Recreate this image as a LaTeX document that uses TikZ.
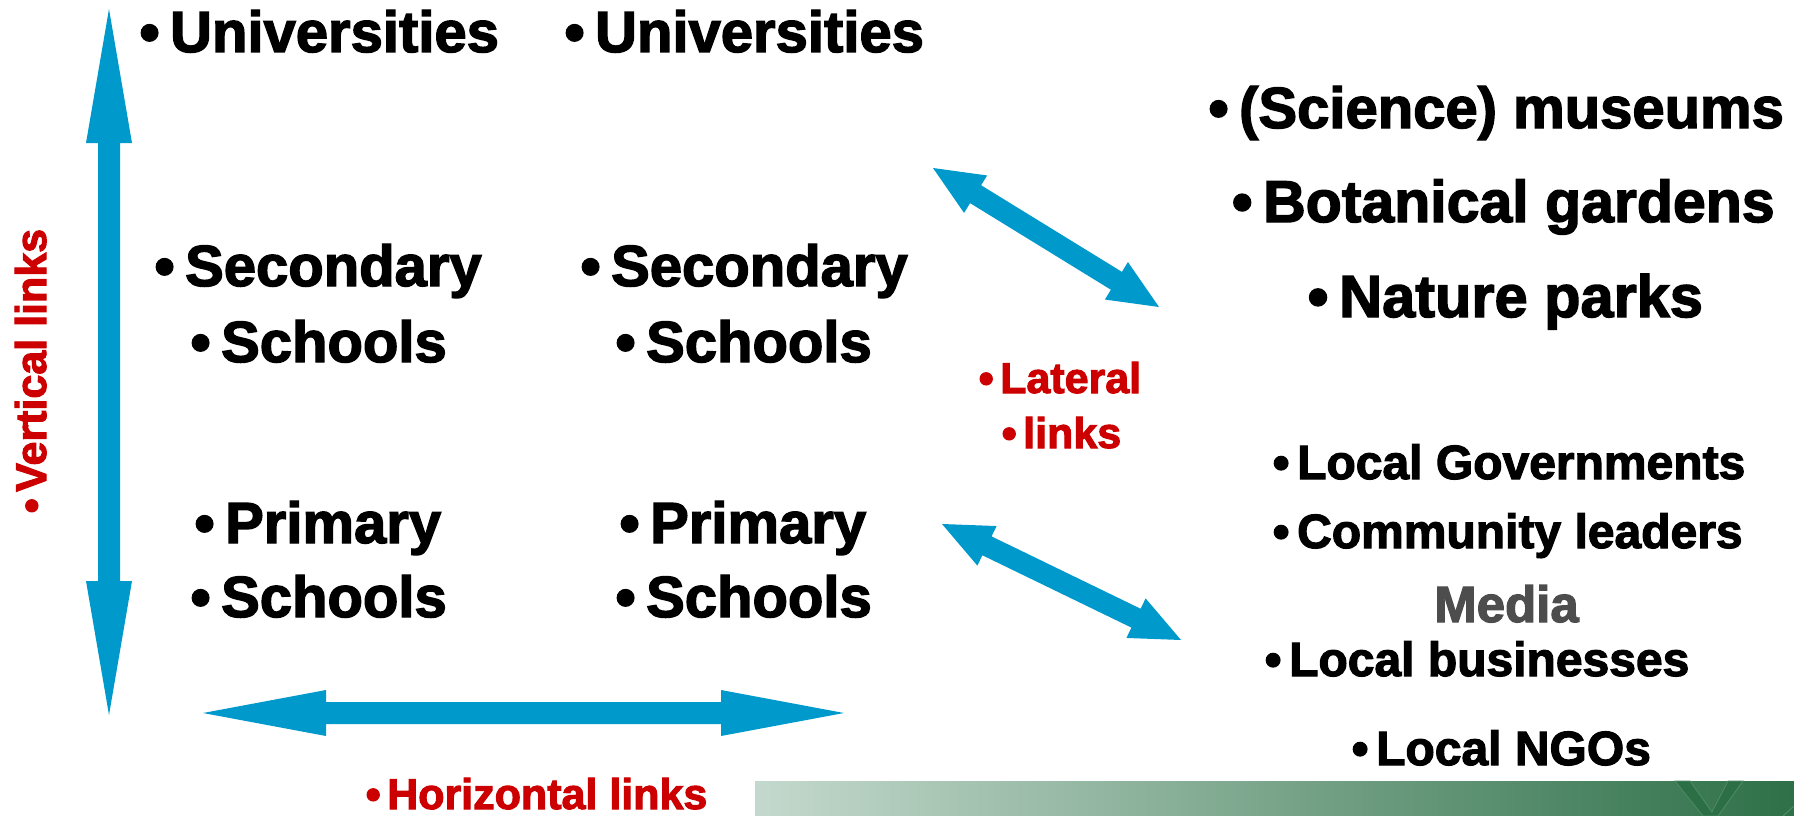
\documentclass[tikz,border=0pt]{standalone}
\usepackage{fontspec}
\setmainfont{Liberation Sans}[BoldFeatures={FakeBold=2.4}]
\usetikzlibrary{calc}
\definecolor{arrblue}{RGB}{0,153,204}
\definecolor{lblred}{RGB}{204,0,0}
\definecolor{mediagray}{RGB}{77,77,77}
\definecolor{barlight}{RGB}{196,217,205}
\definecolor{bardark}{RGB}{46,112,72}
\definecolor{vgreen}{RGB}{44,110,70}
\definecolor{vedge}{RGB}{80,140,100}
\newcommand{\bl}[1]{\llap{•\hspace{#1}}}
% double arrow polygon: #1,#2 tips; #3 head length; #4 head half width; #5 shaft half width
\newcommand{\dblarrow}[5]{%
  \fill[arrblue] (#1)
    -- ($(#1)!#3!(#2)!#4!90:(#2)$)
    -- ($(#1)!#3!(#2)!#5!90:(#2)$)
    -- ($(#2)!#3!(#1)!#5!-90:(#1)$)
    -- ($(#2)!#3!(#1)!#4!-90:(#1)$)
    -- (#2)
    -- ($(#2)!#3!(#1)!#4!90:(#1)$)
    -- ($(#2)!#3!(#1)!#5!90:(#1)$)
    -- ($(#1)!#3!(#2)!#5!-90:(#2)$)
    -- ($(#1)!#3!(#2)!#4!-90:(#2)$)
    -- cycle;}
\begin{document}
\begin{tikzpicture}[x=1pt,y=-1pt,
  big/.style={anchor=base west,inner sep=0pt,font=\fontsize{58}{58}\selectfont\bfseries},
  mid/.style={anchor=base west,inner sep=0pt,font=\fontsize{48}{48}\selectfont\bfseries},
  lbl/.style={anchor=base west,inner sep=0pt,text=lblred,font=\fontsize{43}{43}\selectfont\bfseries}]
\useasboundingbox (0,0) rectangle (1794,816);
% gradient bar
\shade[left color=barlight,right color=bardark] (755,781) rectangle (1794,816);
\filldraw[fill=vgreen,draw=vedge,line width=0.8pt] (1675,781) -- (1690,781) -- (1712,812) -- (1728,781) -- (1743,781) -- (1718,816) -- (1703,816) -- cycle;
\draw[vedge,line width=1pt] (1783,816) -- (1794,806);
% arrows
\coordinate (vt) at (109,9);
\coordinate (vb) at (109,715);
\coordinate (hl) at (203,713);
\coordinate (hr) at (844,713);
\coordinate (ua) at (933,168);
\coordinate (ub) at (1159,307);
\coordinate (la) at (942,524);
\coordinate (lb) at (1181,640);
\dblarrow{vt}{vb}{134pt}{23pt}{11pt}
\dblarrow{hl}{hr}{123pt}{23pt}{11pt}
\dblarrow{ua}{ub}{50pt}{22pt}{10.5pt}
\dblarrow{la}{lb}{50pt}{22pt}{10.5pt}
% school columns
\node[big] (u1) at (170,52) {\bl{0.18em}Universities};
\node[big] (u2) at (595,52) {\bl{0.18em}Universities};
\node[big] (s1) at (185,286) {\bl{0.18em}Secondary};
\node[big] (s2) at (611,286) {\bl{0.18em}Secondary};
\node[big] (c1) at (221,362) {\bl{0.18em}Schools};
\node[big] (c2) at (646,362) {\bl{0.18em}Schools};
\node[big] (p1) at (225,543) {\bl{0.18em}Primary};
\node[big] (p2) at (650,543) {\bl{0.18em}Primary};
\node[big] (d1) at (221,617) {\bl{0.18em}Schools};
\node[big] (d2) at (646,617) {\bl{0.18em}Schools};
% right column
\node[big] (m1) at (1239,128) {\bl{0.18em}(Science) museums};
\node[big,font=\fontsize{59}{59}\selectfont\bfseries] (m2) at (1263,222) {\bl{0.18em}Botanical gardens};
\node[big,font=\fontsize{59.5}{59.5}\selectfont\bfseries] (m3) at (1339,317) {\bl{0.18em}Nature parks};
\node[mid] (g1) at (1297,479) {\bl{0.16em}Local Governments};
\node[mid] (g2) at (1297,548) {\bl{0.16em}Community leaders};
\node[mid,text=mediagray,font=\fontsize{51}{51}\selectfont\bfseries] (g3) at (1434,622) {Media};
\node[mid] (g4) at (1289,676) {\bl{0.16em}Local businesses};
\node[mid] (g5) at (1376,765) {\bl{0.16em}Local NGOs};
% red labels
\node[lbl] (lat1) at (1000,393) {\bl{0.15em}Lateral};
\node[lbl] (lat2) at (1023,448) {\bl{0.15em}links};
\node[lbl] (hor) at (387,809) {\bl{0.15em}Horizontal links};
\node[lbl,rotate=90] (ver) at (46,492) {\bl{0.15em}Vertical links};
\end{tikzpicture}
\end{document}
